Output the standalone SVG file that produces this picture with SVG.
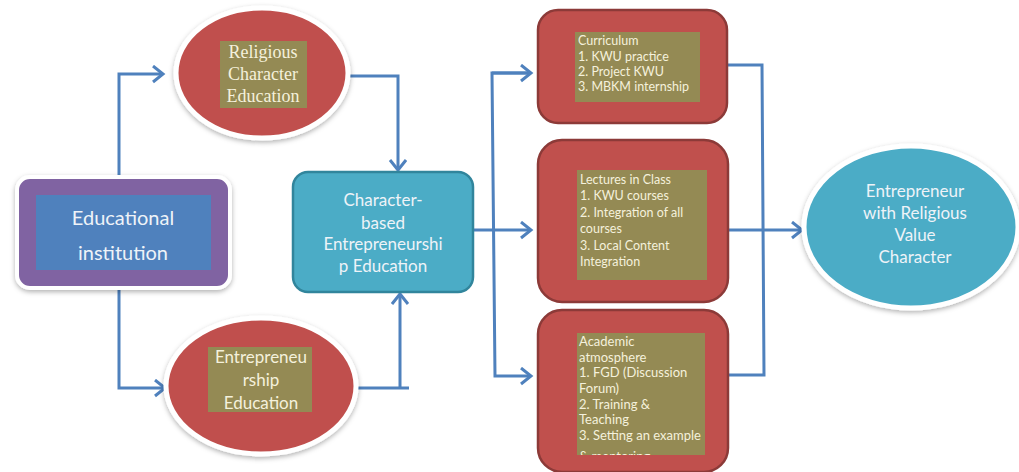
<svg xmlns="http://www.w3.org/2000/svg" width="1019" height="472" viewBox="0 0 1019 472">
<defs>
<style>
.conn{fill:none;stroke:#4F81BD;stroke-width:3;stroke-linejoin:miter}
.tw{font-family:Lato,"Open Sans",sans-serif;fill:#EEF3F8}
.tc{font-family:Lato,"Open Sans",sans-serif;fill:#F4F1DC}
.ts{font-family:"Liberation Serif",serif;fill:#F4F1DC}
.red{fill:#C0504D;stroke:#8C3A38;stroke-width:2.5}
.olive{fill:#948A54}
.ell{stroke:#FFFFFF;stroke-width:5}
</style>
<filter id="sh" x="-20%" y="-20%" width="140%" height="140%">
<feDropShadow dx="0" dy="2" stdDeviation="2.5" flood-color="#000" flood-opacity="0.3"/>
</filter>
<marker id="arr" markerUnits="userSpaceOnUse" markerWidth="20" markerHeight="20" refX="12" refY="9" orient="auto">
<path d="M2,1 L12,9 L2,17" fill="none" stroke="#4F81BD" stroke-width="3"/>
</marker>
<clipPath id="clipA"><rect x="577" y="333" width="128" height="122"/></clipPath>
</defs>

<g id="connectors">
<path class="conn" d="M119,177 V74 H163" marker-end="url(#arr)"/>
<path class="conn" d="M119,289 V388 H165" marker-end="url(#arr)"/>
<path class="conn" d="M347,76 H398 V170" marker-end="url(#arr)"/>
<path class="conn" d="M357,388 H409"/>
<path class="conn" d="M400,388 V294" marker-end="url(#arr)"/>
<path class="conn" d="M473,230 H531" marker-end="url(#arr)"/>
<path class="conn" d="M531,73 H492 L495,376 H531" marker-end="url(#arr)"/>
<path class="conn" d="M492,73 H531" marker-end="url(#arr)"/>
<path class="conn" d="M727,65 H762 L764,375 H728"/>
<path class="conn" d="M723,230 H802" marker-end="url(#arr)"/>
</g>

<g id="educational-institution">
<rect x="17" y="177" width="213" height="111" rx="13" fill="#8064A2" stroke="#FFFFFF" stroke-width="4" filter="url(#sh)"/>
<rect x="36" y="195" width="175" height="75" fill="#4F81BD"/>
<text class="tw" x="123" y="225" font-size="20" text-anchor="middle">Educational</text>
<text class="tw" x="123" y="260" font-size="20" text-anchor="middle">institution</text>
</g>

<g id="religious-character-education">
<ellipse class="ell" cx="262" cy="73" rx="86" ry="65" fill="#C0504D" filter="url(#sh)"/>
<rect class="olive" x="220" y="41" width="87" height="67"/>
<text class="ts" x="263" y="58" font-size="18" text-anchor="middle">Religious</text>
<text class="ts" x="263" y="80" font-size="18" text-anchor="middle">Character</text>
<text class="ts" x="263" y="102" font-size="18" text-anchor="middle">Education</text>
</g>

<g id="entrepreneurship-education">
<ellipse class="ell" cx="261" cy="386" rx="95" ry="68" fill="#C0504D" filter="url(#sh)"/>
<rect class="olive" x="208" y="347" width="104" height="65"/>
<text class="tc" x="261" y="363" font-size="17" text-anchor="middle">Entrepreneu</text>
<text class="tc" x="261" y="386" font-size="17" text-anchor="middle">rship</text>
<text class="tc" x="261" y="409" font-size="17" text-anchor="middle">Education</text>
</g>

<g id="character-based">
<rect x="293" y="172" width="180" height="120" rx="15" fill="#4BACC6" stroke="#31859C" stroke-width="2.5"/>
<text class="tw" x="383" y="206" font-size="17" text-anchor="middle">Character-</text>
<text class="tw" x="383" y="229" font-size="17" text-anchor="middle">based</text>
<text class="tw" x="383" y="250" font-size="17" text-anchor="middle">Entrepreneurshi</text>
<text class="tw" x="383" y="272" font-size="17" text-anchor="middle">p Education</text>
</g>

<g id="curriculum">
<rect class="red" x="538" y="10" width="189" height="113" rx="20"/>
<rect class="olive" x="575" y="32" width="125" height="70"/>
<text class="tc" font-size="12.5" x="578" y="45">Curriculum</text>
<text class="tc" font-size="12.5" x="578" y="61">1. KWU  practice</text>
<text class="tc" font-size="12.5" x="578" y="76">2. Project KWU</text>
<text class="tc" font-size="12.5" x="578" y="91">3. MBKM internship</text>
</g>

<g id="lectures">
<rect class="red" x="538" y="140" width="190" height="162" rx="24"/>
<rect class="olive" x="577" y="170" width="130" height="110"/>
<text class="tc" font-size="12.5" x="580" y="184">Lectures  in Class</text>
<text class="tc" font-size="12.5" x="580" y="200">1. KWU  courses</text>
<text class="tc" font-size="12.5" x="580" y="217">2. Integration  of all</text>
<text class="tc" font-size="12.5" x="580" y="233">courses</text>
<text class="tc" font-size="12.5" x="580" y="250">3.  Local Content</text>
<text class="tc" font-size="12.5" x="580" y="266">Integration</text>
</g>

<g id="academic-atmosphere">
<rect class="red" x="538" y="310" width="190" height="162" rx="24"/>
<rect class="olive" x="577" y="333" width="128" height="122"/>
<g clip-path="url(#clipA)">
<text class="tc" font-size="13" x="579" y="346">Academic</text>
<text class="tc" font-size="13" x="579" y="362">atmosphere</text>
<text class="tc" font-size="13" x="579" y="377">1. FGD (Discussion</text>
<text class="tc" font-size="13" x="579" y="393">Forum)</text>
<text class="tc" font-size="13" x="579" y="409">2. Training  &amp;</text>
<text class="tc" font-size="13" x="579" y="424">Teaching</text>
<text class="tc" font-size="13" x="579" y="440">3. Setting an example</text>
<text class="tc" font-size="13" x="579" y="461">&amp; mentoring</text>
</g>
</g>

<g id="entrepreneur-religious">
<ellipse class="ell" cx="911" cy="227" rx="107" ry="81" fill="#4BACC6" filter="url(#sh)"/>
<text class="tw" x="915" y="197" font-size="17" text-anchor="middle">Entrepreneur</text>
<text class="tw" x="915" y="219" font-size="17" text-anchor="middle">with Religious</text>
<text class="tw" x="915" y="241" font-size="17" text-anchor="middle">Value</text>
<text class="tw" x="915" y="263" font-size="17" text-anchor="middle">Character</text>
</g>
</svg>
